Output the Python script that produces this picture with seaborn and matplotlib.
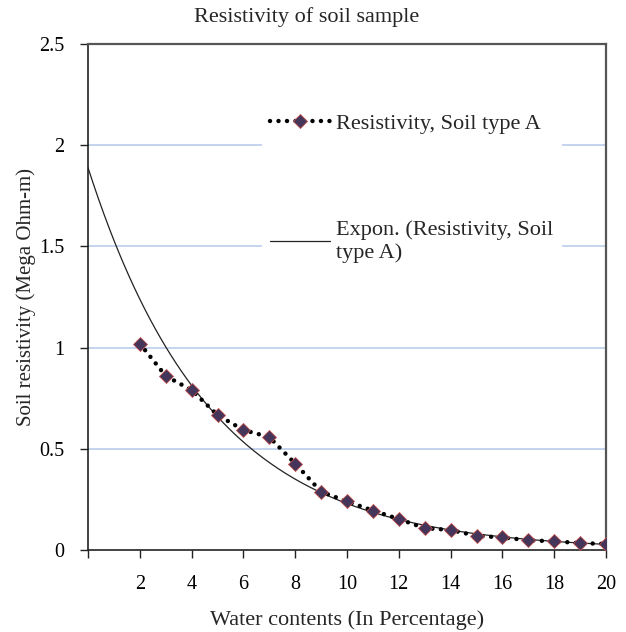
import numpy as np
import pandas as pd
import matplotlib
matplotlib.use("Agg")
import matplotlib.pyplot as plt
import seaborn as sns

# Data
water_content = [2, 3, 4, 5, 6, 7, 8, 9, 10, 11, 12, 13, 14, 15, 16, 17, 18, 19, 20]
resistivity = [1.02, 0.86, 0.79, 0.667, 0.593, 0.558, 0.427, 0.288, 0.240, 0.195,
               0.153, 0.108, 0.099, 0.070, 0.062, 0.048, 0.043, 0.034, 0.030]
x_ticks = [2, 4, 6, 8, 10, 12, 14, 16, 18, 20]
y_ticks = [0, 0.5, 1, 1.5, 2, 2.5]
title = "Resistivity of soil sample"
x_label = "Water contents (In Percentage)"
y_label = "Soil resistivity (Mega Ohm-m)"
series_label = "Resistivity, Soil type A"
trend_label = "Expon. (Resistivity, Soil\ntype A)"

sns.set_theme(style="white")
plt.rcParams["font.family"] = ["Liberation Serif", "DejaVu Serif"]
plt.rcParams["font.size"] = 15

df = pd.DataFrame({"x": water_content, "y": resistivity})

# Exponential trendline fitted from the data (like Excel's "Expon." trendline)
b, ln_a = np.polyfit(df["x"], np.log(df["y"]), 1)
xt = np.linspace(0, 20, 200)
trend = pd.DataFrame({"x": xt, "y": np.exp(ln_a) * np.exp(b * xt)})

fig = plt.figure(figsize=(6.26, 6.32), dpi=100)
ax = fig.add_axes([88 / 626, 1 - 550 / 632, 518 / 626, 506 / 632])

grid_color = "#B9CDEA"
for yv in y_ticks[1:]:
    ax.axhline(yv, color=grid_color, lw=1.2, zorder=0)

sns.lineplot(data=trend, x="x", y="y", ax=ax, color="#222222", lw=0.9,
             label=trend_label, zorder=2)
sns.lineplot(data=df, x="x", y="y", ax=ax, color="black", lw=3.2,
             dashes=False, marker="D", markersize=7.5,
             markerfacecolor="#45355A", markeredgecolor="#C0504D",
             markeredgewidth=0.6, label=series_label, zorder=3)
line = ax.lines[-1]
line.set_linestyle((0, (0.01, 1.9)))
line.set_dash_capstyle("round")

ax.set_xlim(0, 20)
ax.set_ylim(0, 2.5)
ax.set_xticks([0] + x_ticks)
ax.set_xticklabels([""] + [str(v) for v in x_ticks])
ax.set_yticks(y_ticks)
ax.set_yticklabels(["0", "0.5", "1", "1.5", "2", "2.5"])
ax.tick_params(axis="both", direction="out", length=6, width=1, color="#222222",
               labelsize=14.5, labelcolor="black", bottom=True, left=True)
ax.tick_params(axis="x", pad=12)
ax.tick_params(axis="y", pad=11)

for side in ["left", "bottom"]:
    ax.spines[side].set_color("#222222")
    ax.spines[side].set_linewidth(1.2)
for side in ["top", "right"]:
    ax.spines[side].set_color("#555555")
    ax.spines[side].set_linewidth(1.6)

ax.set_xlabel(x_label, fontsize=16, labelpad=12)
ax.set_ylabel(y_label, fontsize=15, labelpad=2)
fig.text(307 / 626, 1 - 17 / 632, title, ha="center", va="center", fontsize=16)

handles, labels = ax.get_legend_handles_labels()
order = [labels.index(series_label), labels.index(trend_label)]
leg = ax.legend([handles[i] for i in order], [labels[i] for i in order],
                loc="upper left", bbox_to_anchor=(0.336, 0.879),
                frameon=True, facecolor="white", edgecolor="none",
                framealpha=1, fontsize=16, handlelength=2.7,
                labelspacing=3.9, borderpad=0.35, handletextpad=0.3,
                borderaxespad=0, fancybox=False)
leg.set_zorder(1)

fig.savefig("out.png", dpi=100)
